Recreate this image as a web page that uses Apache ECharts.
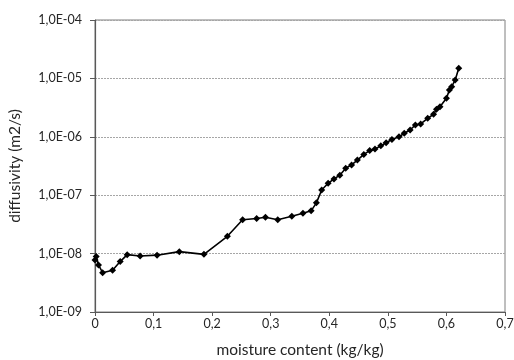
<!DOCTYPE html>
<html>
<head>
<meta charset="utf-8">
<script src="https://cdn.jsdelivr.net/npm/echarts@6/dist/echarts.min.js"></script>
<style>
  html, body { margin: 0; padding: 0; background: #fff; }
  #chart { width: 514px; height: 360px; }
</style>
</head>
<body>
<div id="chart"></div>
<script>
// Moisture content (kg/kg) and the matching diffusivity (m2/s)
const moisture = [
  0.000, 0.002, 0.006, 0.013, 0.030, 0.043, 0.055, 0.077, 0.106, 0.144,
  0.186, 0.226, 0.252, 0.276, 0.291, 0.312, 0.336, 0.355, 0.369, 0.378,
  0.387, 0.398, 0.408, 0.418, 0.428, 0.438, 0.448, 0.459, 0.469, 0.478,
  0.488, 0.497, 0.507, 0.519, 0.528, 0.538, 0.547, 0.556, 0.568, 0.578,
  0.583, 0.589, 0.600, 0.605, 0.609, 0.615, 0.621
];
const diffusivity = [
  7.8e-9, 8.9e-9, 6.4e-9, 4.7e-9, 5.2e-9, 7.3e-9, 9.6e-9, 9.1e-9, 9.4e-9, 1.08e-8,
  9.7e-9, 1.98e-8, 3.8e-8, 4.0e-8, 4.2e-8, 3.8e-8, 4.35e-8, 4.9e-8, 5.4e-8, 7.4e-8,
  1.23e-7, 1.6e-7, 1.9e-7, 2.2e-7, 2.9e-7, 3.3e-7, 4.0e-7, 5.0e-7, 5.8e-7, 6.2e-7,
  7.0e-7, 7.9e-7, 9.0e-7, 1.0e-6, 1.15e-6, 1.31e-6, 1.59e-6, 1.66e-6, 2.07e-6, 2.43e-6,
  2.96e-6, 3.27e-6, 4.56e-6, 6.3e-6, 7.2e-6, 9.4e-6, 1.49e-5
];

// Axis tick labels
const xTickLabels = ['0', '0,1', '0,2', '0,3', '0,4', '0,5', '0,6', '0,7'];
const yTickLabels = ['1,0E-09', '1,0E-08', '1,0E-07', '1,0E-06', '1,0E-05', '1,0E-04'];

const FONT = 'Lato, "Open Sans", sans-serif';
const TEXT = '#262626';
const AXIS = '#595959';

const chart = echarts.init(document.getElementById('chart'), null, { renderer: 'canvas' });

chart.setOption({
  animation: false,
  backgroundColor: '#ffffff',
  grid: {
    left: 95, right: 9, top: 20, bottom: 48,
    outerBoundsMode: 'none',
    containLabel: false,
    show: true, borderColor: '#7f7f7f', borderWidth: 1
  },
  xAxis: {
    type: 'value',
    min: 0, max: 0.7, interval: 0.1,
    name: 'moisture content (kg/kg)',
    nameLocation: 'middle',
    nameGap: 30,
    nameTextStyle: { fontFamily: FONT, fontSize: 15.5, color: TEXT },
    axisLine: { show: true, lineStyle: { color: AXIS, width: 1.2 } },
    axisTick: { show: true, inside: false, length: 4, lineStyle: { color: AXIS } },
    axisLabel: {
      fontFamily: FONT, fontSize: 12.5, color: TEXT, margin: 5,
      formatter: v => xTickLabels[Math.round(v * 10)]
    },
    splitLine: { show: false }
  },
  yAxis: {
    type: 'log',
    logBase: 10,
    min: 1e-9, max: 1e-4,
    name: 'diffusivity (m2/s)',
    nameLocation: 'middle',
    nameGap: 72,
    nameRotate: 90,
    nameTextStyle: { fontFamily: FONT, fontSize: 15.5, color: TEXT },
    axisLine: { show: true, lineStyle: { color: AXIS, width: 1.2 } },
    axisTick: { show: true, inside: false, length: 5, lineStyle: { color: AXIS } },
    axisLabel: {
      fontFamily: FONT, fontSize: 12.5, color: TEXT, margin: 13,
      formatter: v => yTickLabels[Math.round(Math.log10(v)) + 9]
    },
    splitLine: { show: true, lineStyle: { color: '#a6a6a6', type: [2, 1], width: 1 } }
  },
  series: [{
    type: 'line',
    data: moisture.map((m, i) => [m, diffusivity[i]]),
    lineStyle: { color: '#000000', width: 1.6 },
    itemStyle: { color: '#000000' },
    symbol: 'diamond',
    symbolSize: 7,
    showSymbol: true
  }]
});
</script>
</body>
</html>
